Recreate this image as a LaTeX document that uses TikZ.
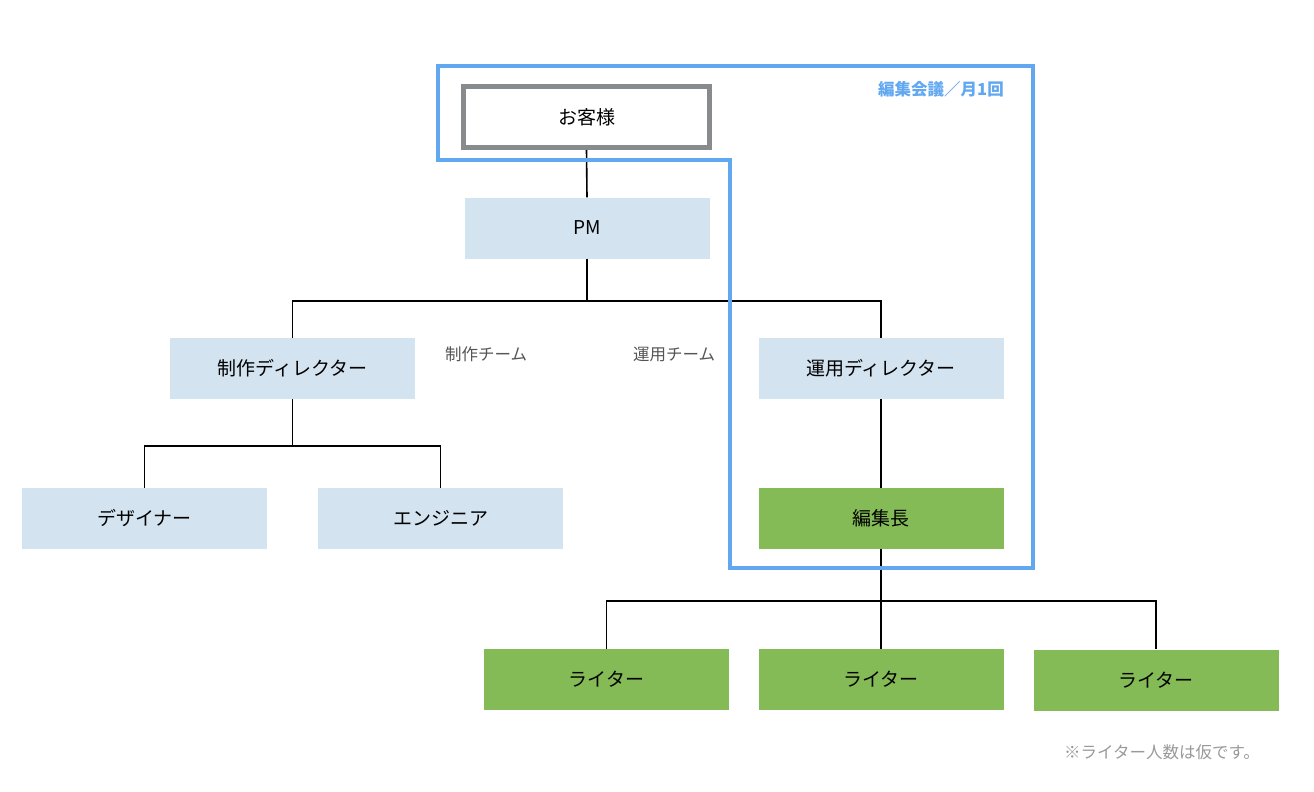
\documentclass[tikz,border=0pt]{standalone}
\usepackage{fontspec}
\setmainfont{Noto Sans CJK JP}
\definecolor{boxblue}{HTML}{D4E3F0}
\definecolor{boxgreen}{HTML}{84BB56}
\definecolor{framegray}{HTML}{888B8E}
\definecolor{meetblue}{HTML}{62A8F0}
\definecolor{labelgray}{HTML}{555555}
\definecolor{notegray}{HTML}{999999}
\tikzset{
  px/.style={x=1pt,y=-1pt},
  bluebox/.style={fill=boxblue,draw=none,minimum width=245pt,minimum height=61pt,inner sep=0pt,font=\fontsize{19}{19}\selectfont},
  greenbox/.style={fill=boxgreen,draw=none,minimum width=245pt,minimum height=61pt,inner sep=0pt,font=\fontsize{19}{19}\selectfont},
  clientbox/.style={fill=white,draw=framegray,line width=5pt,minimum width=246pt,minimum height=61pt,inner sep=0pt,font=\fontsize{19}{19}\selectfont},
  conn/.style={draw=black,line width=1.6pt},
  teamlabel/.style={text=labelgray,font=\fontsize{16.5}{16.5}\selectfont,inner sep=0pt},
}
\begin{document}
\begin{tikzpicture}[px]
\useasboundingbox (0,0) rectangle (1314,792);
% nodes
\node[clientbox] (client) at (586.5,117) {お客様};
\node[bluebox] (pm) at (587,228) {PM};
\node[bluebox] (seisaku) at (292.5,368.5) {制作ディレクター};
\node[bluebox] (unyou) at (881,368.5) {運用ディレクター};
\node[bluebox] (designer) at (144.5,518.5) {デザイナー};
\node[bluebox] (engineer) at (440.5,518.5) {エンジニア};
\node[greenbox] (editor) at (881,518.5) {編集長};
\node[greenbox] (w1) at (606.5,679.5) {ライター};
\node[greenbox] (w2) at (881,679.5) {ライター};
\node[greenbox] (w3) at (1156,680) {ライター};
% connectors
\coordinate (j1) at (587,301);
\coordinate (j2) at (292.5,446);
\coordinate (j3) at (881,601);
\draw[conn] (client.south) -- (pm.north);
\draw[conn] (pm.south) -- (j1);
\draw[conn] (seisaku.north) |- (j1) -| (unyou.north);
\draw[conn] (seisaku.south) -- (j2);
\draw[conn] (designer.north) |- (j2) -| (engineer.north);
\draw[conn] (unyou.south) -- (editor.north);
\draw[conn] (editor.south) -- (w2.north);
\draw[conn] (w1.north) |- (j3) -| (w3.north);
% meeting frame
\draw[meetblue,line width=3.5pt] (438,66) -- (1033,66) -- (1033,568) -- (730,568) -- (730,160) -- (438,160) -- cycle;
\node[text=meetblue,font=\fontsize{16.5}{16.5}\selectfont\bfseries,inner sep=0pt] (meet) at (941,89) {編集会議／月1回};
% labels
\node[teamlabel] (lseisaku) at (486,354) {制作チーム};
\node[teamlabel] (lunyou) at (674,354) {運用チーム};
\node[text=notegray,font=\fontsize{16.5}{16.5}\selectfont,inner sep=0pt] (note) at (1162,752) {※ライター人数は仮です。};
\end{tikzpicture}
\end{document}
